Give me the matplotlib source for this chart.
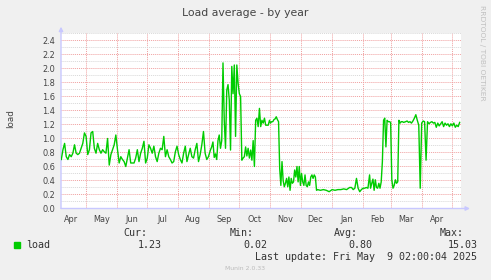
import numpy as np
import pandas as pd
import matplotlib
matplotlib.use("Agg")
from matplotlib import pyplot as plt
import matplotlib.dates as mdates
from matplotlib.patches import Rectangle
from matplotlib.ticker import MultipleLocator, NullFormatter

# load average readings, one list per stretch of the year
spring_summer = [0.70, 0.84, 0.93, 0.74, 0.70, 0.77, 0.74, 0.79, 0.91, 0.79, 0.77, 0.79,
                 0.86, 0.93, 1.08, 1.03, 0.77, 0.84, 1.08, 1.10, 0.86, 0.79, 0.93, 0.84,
                 0.79, 0.84, 0.81, 0.79, 1.00, 0.62, 0.77, 0.84, 0.91, 1.05, 0.84, 0.65,
                 0.74, 0.70, 0.67, 0.60, 0.72, 0.84, 0.65, 0.65, 0.65, 0.72, 0.84, 0.67,
                 0.79, 0.86, 0.96, 0.65, 0.72, 0.91, 0.86, 0.79, 0.89, 0.74, 0.67, 0.79,
                 0.86, 0.84, 1.03, 0.74, 0.84, 0.74, 0.70, 0.65, 0.67, 0.81, 0.89, 0.77,
                 0.70, 0.65, 0.79, 0.89, 0.67, 0.77, 0.86, 0.74, 0.72, 0.84, 0.93, 0.67,
                 0.77, 0.91, 1.10, 0.79, 0.70, 0.74]
spring_summer_span = ("2024-04-06", "2024-08-31")

autumn = [0.835, 0.88, 0.95, 0.73, 0.78, 0.70, 0.97, 1.05, 0.86, 0.97, 2.08, 1.26,
          0.86, 1.69, 1.77, 1.55, 0.835, 2.03, 1.64, 2.05, 1.03, 2.05, 1.79, 1.64,
          1.60, 0.69, 0.72, 0.74, 0.88, 0.75, 0.86, 0.72, 0.835, 0.69, 0.97, 0.60,
          1.26, 1.29, 1.17, 1.43, 1.17, 1.26, 1.22, 1.29, 1.19, 1.19, 1.19, 1.26]
autumn_span = ("2024-09-02", "2024-10-31")

early_winter = [1.22, 1.24, 1.24, 1.27, 1.28, 1.31, 1.27, 1.24, 0.57, 0.33, 0.67, 0.40,
                0.31, 0.36, 0.43, 0.31, 0.45, 0.26, 0.43, 0.36, 0.38, 0.55, 0.45, 0.60,
                0.38, 0.60, 0.33, 0.50, 0.38, 0.33, 0.48, 0.33, 0.31, 0.38, 0.33, 0.45,
                0.48, 0.43, 0.48, 0.45, 0.26]
early_winter_span = ("2024-11-01", "2024-12-17")

holidays = [0.27, 0.26, 0.27, 0.26, 0.24, 0.27, 0.26, 0.27, 0.27, 0.28, 0.27, 0.30]
holidays_span = ("2024-12-18", "2025-01-19")

late_january = [0.30, 0.27, 0.29, 0.43, 0.29, 0.24, 0.27, 0.29, 0.29, 0.30, 0.29, 0.48]
late_january_span = ("2025-01-21", "2025-02-08")

february = [0.29, 0.36, 0.42, 0.26, 0.41, 0.30, 0.29, 0.36, 0.29, 0.38, 0.67, 1.26,
            1.29, 0.88, 1.26, 1.24, 1.24, 1.23, 0.41, 0.29, 0.33, 0.41, 0.36, 0.38,
            1.26, 1.22, 1.24, 1.24, 1.23]
february_span = ("2025-02-09", "2025-03-14")

spring = [1.24, 1.25, 1.23, 1.24, 1.22, 1.25, 1.29, 1.34, 1.26, 1.19, 0.29, 1.22,
          1.25, 1.24, 0.69, 1.24, 1.21, 1.23, 1.24, 1.22, 1.23, 1.16, 1.22, 1.18,
          1.21, 1.24, 1.17, 1.22, 1.19, 1.21, 1.17, 1.21, 1.18, 1.22, 1.16, 1.19,
          1.17, 1.23]
spring_span = ("2025-03-16", "2025-05-09")

legend_stats = [("Cur:", "1.23"), ("Min:", "0.02"), ("Avg:", "0.80"), ("Max:", "15.03")]
last_update = "Last update: Fri May  9 02:00:04 2025"

segments = [(spring_summer, spring_summer_span), (autumn, autumn_span),
            (early_winter, early_winter_span), (holidays, holidays_span),
            (late_january, late_january_span), (february, february_span),
            (spring, spring_span)]

dates = []
values = []
for vals, (start, end) in segments:
    dates.extend(pd.date_range(start, end, periods=len(vals)))
    values.extend(vals)

W, H = 491, 280
BG = "#F0F0F0"
TXT = "#444444"
GREEN = "#00CC00"
AXIS = "#C8C8FF"


def fx(px):
    return px / W


def fy(py):
    return 1 - py / H


fig = plt.figure(figsize=(W / 100, H / 100), dpi=100, facecolor=BG)
ax = fig.add_axes([fx(61), fy(208.5), 400 / W, 175.5 / H])
ax.set_facecolor("white")

ax.plot(dates, values, color=GREEN, lw=1.0, zorder=5)

ax.set_xlim(pd.Timestamp("2024-04-05 17:00"), pd.Timestamp("2025-05-10 08:00"))
ax.set_ylim(0, 2.507)

ax.yaxis.set_major_locator(MultipleLocator(0.2))
ax.yaxis.set_minor_locator(MultipleLocator(0.1))
ax.yaxis.set_major_formatter(plt.FuncFormatter(lambda v, p: "%.1f" % v))
ax.xaxis.set_major_locator(mdates.MonthLocator())
ax.xaxis.set_major_formatter(NullFormatter())
ax.xaxis.set_minor_locator(mdates.MonthLocator(bymonthday=16))
ax.xaxis.set_minor_formatter(mdates.DateFormatter("%b"))

ax.grid(which="minor", axis="y", color="#D8D8D8", lw=0.7, ls=(0, (1, 1)), zorder=1)
ax.grid(which="major", axis="both", color="#F0A0A0", lw=0.7, ls=(0, (1, 1)), zorder=2)

ax.tick_params(which="both", length=0, labelsize=5.9, labelcolor=TXT)
ax.tick_params(axis="y", pad=4.3)
ax.tick_params(axis="x", which="minor", pad=4.5)

for s in ax.spines.values():
    s.set_visible(False)

arrow = dict(arrowstyle="-|>", color=AXIS, lw=1, mutation_scale=6, shrinkA=0, shrinkB=0)
ax.annotate("", xy=(0, 1.036), xytext=(0, 0), xycoords="axes fraction", arrowprops=arrow)
ax.annotate("", xy=(1.0225, 0), xytext=(0, 0), xycoords="axes fraction", arrowprops=arrow)

fig.text(fx(245.2), fy(13), "Load average - by year", ha="center", va="center",
         fontsize=7.8, color=TXT)
fig.text(fx(11), fy(119), "load", rotation=90, ha="center", va="center",
         fontsize=6.3, color=TXT)
fig.text(fx(482), fy(5), "RRDTOOL / TOBI OETIKER", rotation=270, ha="center", va="top",
         fontsize=5.4, color="#C0C0C0")

fig.patches.append(Rectangle((fx(14), fy(248)), 6 / W, 6 / H, transform=fig.transFigure,
                             color=GREEN))
mono = dict(family="DejaVu Sans Mono", fontsize=7.2, color="#333333", va="center")
fig.text(fx(26), fy(245.5), "load", ha="left", **mono)
label_ends = [147.3, 253.3, 358.3, 463.3]
for (lab, val), xe in zip(legend_stats, label_ends):
    fig.text(fx(xe), fy(233.5), lab, ha="right", **mono)
    fig.text(fx(xe + 14), fy(245.5), val, ha="right", **mono)
fig.text(fx(477.3), fy(257.5), last_update, ha="right", **mono)
fig.text(fx(245), fy(268), "Munin 2.0.33", ha="center", va="center", fontsize=4.4,
         color="#BBBBBB")

fig.savefig("out.png", dpi=100, facecolor=BG)
